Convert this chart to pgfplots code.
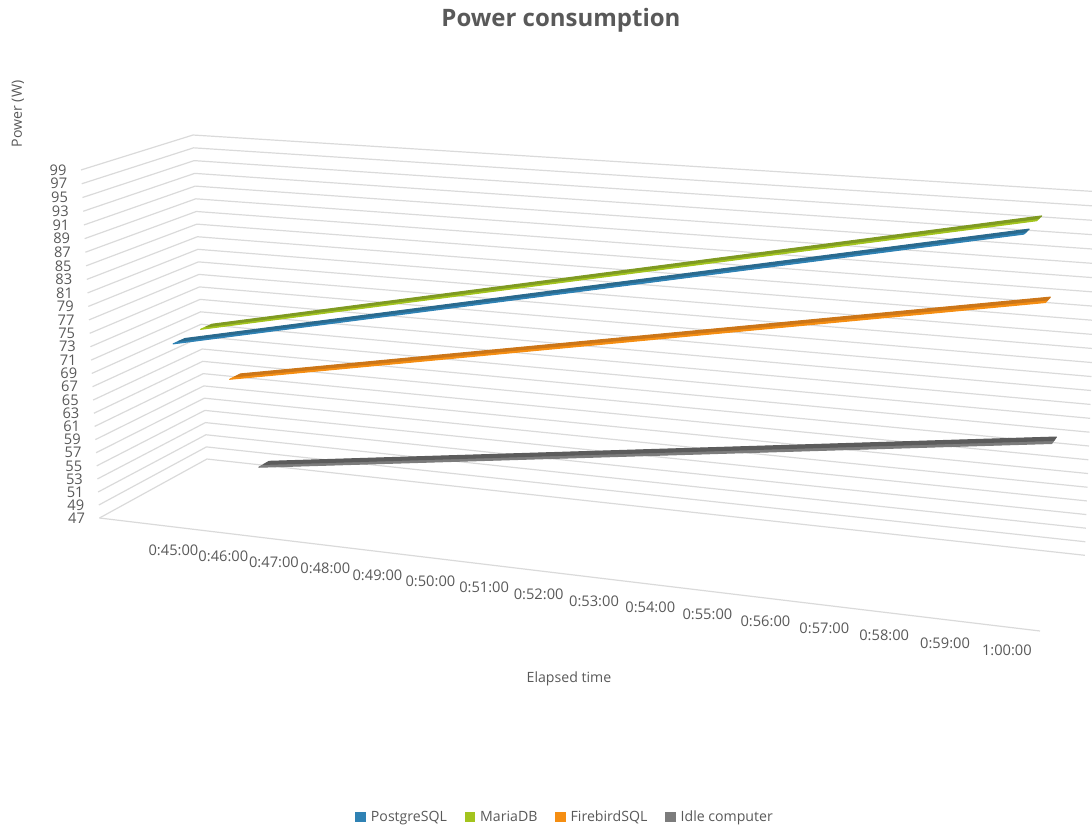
\documentclass[border=0pt]{standalone}
\usepackage{pgfplots}
\usepackage{pgfplotstable}
\usepackage{fontspec}
\setmainfont{Open Sans}
\pgfplotsset{compat=1.18}
\definecolor{txt}{HTML}{595959}
\definecolor{gridc}{HTML}{DADADA}
\definecolor{blueB}{HTML}{2F82B4}\definecolor{blueD}{HTML}{2A6A8E}
\definecolor{greenB}{HTML}{A3C41E}\definecolor{greenD}{HTML}{7F9A22}
\definecolor{orangeB}{HTML}{F58E12}\definecolor{orangeD}{HTML}{CC7618}
\definecolor{grayB}{HTML}{7C7C7C}\definecolor{grayD}{HTML}{5C5C5C}

% Each series: elapsed minutes, power in watts, and the side of the ribbon (0 near, 1 far)
\pgfplotstableread{
t P s
45 73.9 0
60 98.6 0
60 98.6 1
45 73.9 1
}\tblPostgres
\pgfplotstableread{
t P s
45 74.2 0
60 98.8 0
60 98.8 1
45 74.2 1
}\tblMaria
\pgfplotstableread{
t P s
45 64.6 0
60 86.2 0
60 86.2 1
45 64.6 1
}\tblFirebird
\pgfplotstableread{
t P s
45 48.5 0
60 64.5 0
60 64.5 1
45 48.5 1
}\tblIdle
% Outline of one power level: left wall, then back wall
\pgfplotstableread{
u w
0 0
0 1
1 1
}\tblLevel

% Ribbon band: {table}{colour}{near depth}{far depth}
\newcommand{\ribbon}[4]{%
  \addplot[fill=#2,draw=#2,line width=0.8pt,line join=round,forget plot] table[
    x expr={hx(tu(\thisrow{t}),(\thisrow{P}-47)/52,#3+\thisrow{s}*(#4-#3))},
    y expr={hy(tu(\thisrow{t}),(\thisrow{P}-47)/52,#3+\thisrow{s}*(#4-#3))}]
    {#1} -- cycle;
}

\begin{document}
\begin{tikzpicture}
\begin{axis}[
  scale only axis,
  width=819pt, height=620.25pt,
  xmin=0, xmax=1092, ymin=0, ymax=827,
  y dir=reverse,
  axis lines=none,
  clip=true,
  /pgf/declare function={
    hd(\u,\v,\w)=1-0.122*\u-0.031*\v+0.0775*\w;
    hx(\u,\v,\w)=(99.5+813.6*\u-21*\v+123.5*\w)/hd(\u,\v,\w);
    hy(\u,\v,\w)=(518+36*\u-353.3*\v-23.4*\w)/hd(\u,\v,\w);
    tu(\t)=0.088+(\t-45)*0.0588;
    lu(\t)=0.088+(\t-45)*0.0587;
  },
  legend columns=-1,
  legend style={
    at={(axis cs:565.5,817)}, anchor=center, draw=none, fill=none,
    font=\fontsize{10.6pt}{12pt}\selectfont\color{txt},
    inner sep=0pt,
    /tikz/every even column/.append style={column sep=11.3pt},
    /tikz/every odd column/.append style={column sep=2.2pt},
  },
  legend cell align=left,
  legend image code/.code={\fill[#1] (0pt,-3.5pt) rectangle (7pt,3.5pt);},
]
% Power levels on the walls
\pgfplotsinvokeforeach{47,49,...,99}{
  \addplot[gridc,line width=0.9pt,forget plot] table[
    x expr={hx(\thisrow{u},(#1-47)/52,\thisrow{w})},
    y expr={hy(\thisrow{u},(#1-47)/52,\thisrow{w})}] {\tblLevel};
  \node[anchor=east,inner sep=0pt,text=txt,font=\fontsize{11pt}{12pt}\selectfont]
    at (axis cs:{hx(0,(#1-47)/52,0)-14.3},{hy(0,(#1-47)/52,0)}) {#1};
}
% Front edge of the floor
\addplot[gridc,line width=0.9pt,forget plot] coordinates {(99.5,518) (1040,631)};

% Ribbons, farthest first
\ribbon{\tblIdle}{grayB}{0.825}{0.875}
\ribbon{\tblIdle}{grayD}{0.875}{0.93}
\ribbon{\tblFirebird}{orangeB}{0.575}{0.625}
\ribbon{\tblFirebird}{orangeD}{0.625}{0.68}
\ribbon{\tblMaria}{greenB}{0.325}{0.375}
\ribbon{\tblMaria}{greenD}{0.375}{0.43}
\ribbon{\tblPostgres}{blueB}{0.075}{0.125}
\ribbon{\tblPostgres}{blueD}{0.125}{0.18}

% Time labels along the floor
\pgfplotsinvokeforeach{45,...,59}{
  \node[inner sep=0pt,text=txt,font=\fontsize{11pt}{12pt}\selectfont]
    at (axis cs:{hx(lu(#1),0,0)+0.5},{hy(lu(#1),0,0)+23.5}) {0:#1:00};
}
\node[inner sep=0pt,text=txt,font=\fontsize{11pt}{12pt}\selectfont]
  at (axis cs:{hx(lu(60),0,0)+0.5},{hy(lu(60),0,0)+23.5}) {1:00:00};

% Titles
\node[text=txt,font=\fontsize{18pt}{20pt}\selectfont\bfseries] at (axis cs:561,20.5) {Power consumption};
\node[text=txt,rotate=90,font=\fontsize{10.6pt}{12pt}\selectfont] at (axis cs:18,114) {Power (W)};
\node[text=txt,font=\fontsize{10.6pt}{12pt}\selectfont] at (axis cs:569,678.5) {Elapsed time};

% Legend
\addlegendimage{blueB}\addlegendentry{PostgreSQL}
\addlegendimage{greenB}\addlegendentry{MariaDB}
\addlegendimage{orangeB}\addlegendentry{FirebirdSQL}
\addlegendimage{grayB}\addlegendentry{Idle computer}
\end{axis}
% The page spans the whole plotting rectangle
\path (current axis.south west) rectangle (current axis.north east);
\end{tikzpicture}
\end{document}
